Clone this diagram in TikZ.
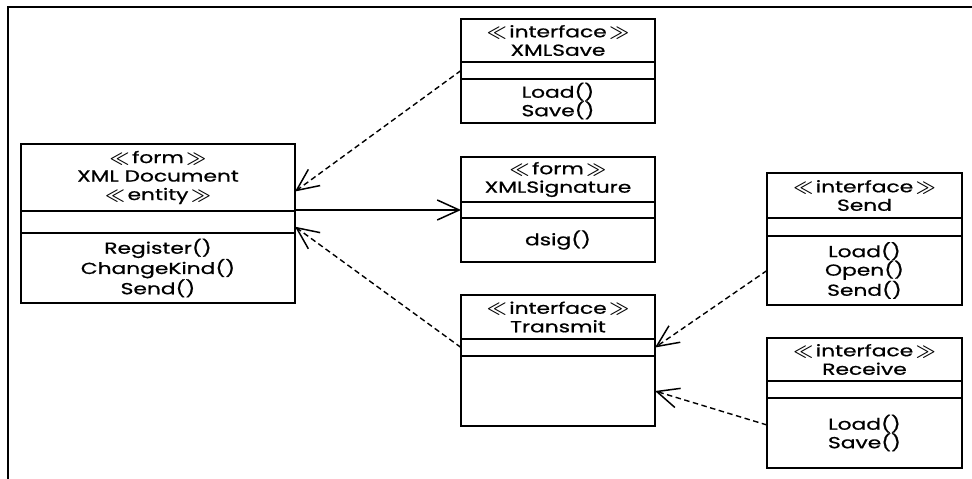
\documentclass[tikz,border=0pt]{standalone}
\usepackage{fontspec}
\setmainfont{Poppins}[FakeStretch=1.36, FakeBold=0.8]
\usetikzlibrary{arrows.meta}

\tikzset{
  compart/.style={draw, line width=1.4pt, inner sep=0pt, outer sep=0pt,
    align=center, anchor=north west,
    font=\fontsize{16}{18.5}\selectfont},
  divider/.style={line width=2.2pt},
  openhead/.style={-{Straight Barb[length=22pt, width=20pt, line width=1.5pt]}},
  dep/.style={openhead, line width=1.4pt, dash pattern=on 5.5pt off 3.5pt},
  assoc/.style={openhead, line width=1.5pt},
}

% stereotype in double angle marks
\newcommand\guil[1]{{\fontsize{19}{18.5}\selectfont\boldmath$#1$}}
\newcommand\stereo[1]{\guil{\ll}\,#1\,\guil{\gg}}

% UML class: name, x, y, width, three compartment heights, header text, operations
\newcommand\umlclass[9]{%
  \node[compart, minimum width=#4pt, minimum height=#5pt] (#1-head) at (#2,#3) {#8};
  \node[compart, minimum width=#4pt, minimum height=#6pt, anchor=north] (#1-attr) at (#1-head.south) {};
  \node[compart, minimum width=#4pt, minimum height=#7pt, anchor=north] (#1-ops) at (#1-attr.south) {#9};
  \draw[divider] (#1-head.south west) -- (#1-head.south east);
  \draw[divider] (#1-attr.south west) -- (#1-attr.south east);
}

\begin{document}
\begin{tikzpicture}[x=1pt, y=-1pt]
  \useasboundingbox (0,0) rectangle (972,479);

  % frame
  \draw[line width=1.5pt] (8,479) -- (8,7) -- (972,7);

  \umlclass{xmlsave}{461}{19}{194}{43}{17}{44}
    {\stereo{interface}\\XMLSave}{Load()\\Save()}
  \umlclass{doc}{21}{144}{274}{67}{22}{70}
    {\stereo{form}\\XML Document\\\stereo{entity}}{Register()\\ChangeKind()\\Send()}
  \umlclass{xmlsig}{461}{157}{194}{45}{16}{44}
    {\stereo{form}\\XMLSignature}{dsig()}
  \umlclass{transmit}{461}{295}{194}{44}{17}{70}
    {\stereo{interface}\\Transmit}{}
  \umlclass{send}{767}{173}{195}{45}{18}{69}
    {\stereo{interface}\\Send}{Load()\\Open()\\Send()}
  \umlclass{receive}{767}{338}{195}{43}{17}{70}
    {\stereo{interface}\\Receive}{Load()\\Save()}

  % connectors
  \draw[dep] (xmlsave-attr.west) -- ([yshift=-14pt]doc-head.east);
  \draw[assoc] (doc-head.south east |- xmlsig-attr.west) -- (xmlsig-attr.west);
  \draw[dep] (transmit-attr.west) -- ([yshift=-4.7pt]doc-attr.east);
  \draw[dep] (send-ops.west) -- (transmit-attr.east);
  \draw[dep] ([yshift=8pt]receive-ops.west) -- (transmit-ops.east);
\end{tikzpicture}
\end{document}
